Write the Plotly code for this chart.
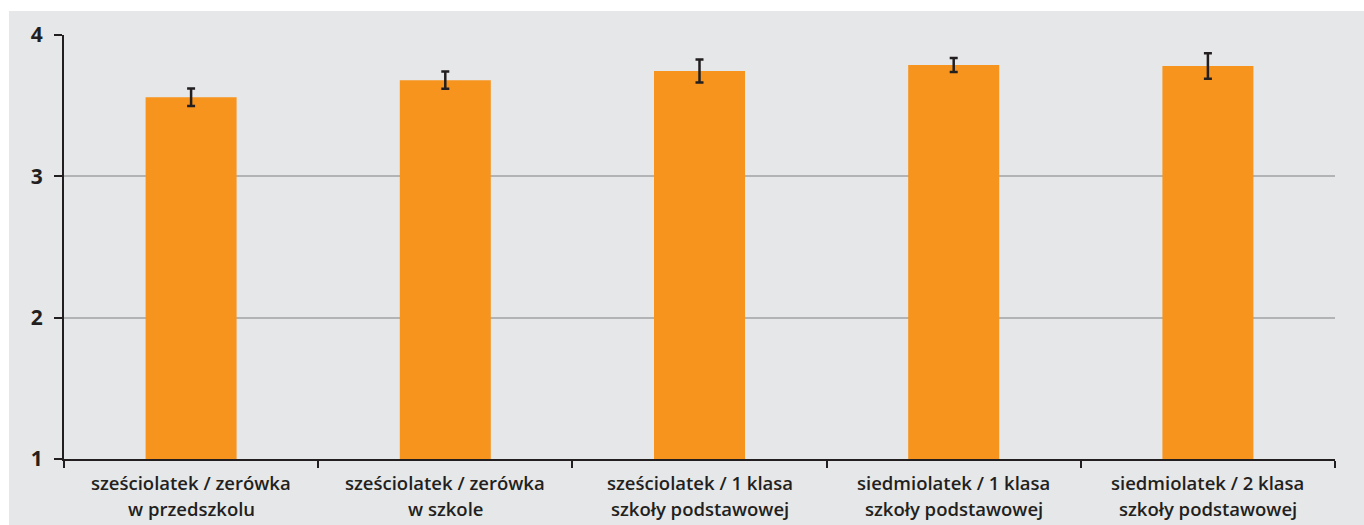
import plotly.graph_objects as go

categories = [
    "sześciolatek / zerówka w przedszkolu",
    "sześciolatek / zerówka w szkole",
    "sześciolatek / 1 klasa szkoły podstawowej",
    "siedmiolatek / 1 klasa szkoły podstawowej",
    "siedmiolatek / 2 klasa szkoły podstawowej",
]
label_line1 = [
    "sześciolatek / zerówka",
    "sześciolatek / zerówka",
    "sześciolatek / 1 klasa",
    "siedmiolatek / 1 klasa",
    "siedmiolatek / 2 klasa",
]
label_line2 = [
    "w przedszkolu",
    "w szkole",
    "szkoły podstawowej",
    "szkoły podstawowej",
    "szkoły podstawowej",
]
values = [3.56, 3.68, 3.745, 3.788, 3.781]
errors = [0.062, 0.061, 0.081, 0.05, 0.09]
y_ticks = [1, 2, 3, 4]

BG = "#e6e7e8"
DARK = "#231f20"
ORANGE = "#f7941d"
FONT = "Open Sans"

fig = go.Figure()
fig.add_trace(go.Bar(
    x=categories,
    y=values,
    marker=dict(color=ORANGE, line=dict(width=0)),
    error_y=dict(type="data", array=errors, visible=True,
                 color=DARK, thickness=2.5, width=4),
    hoverinfo="skip",
))

L, R, T, B = 64, 29, 35, 66
W, H = 1364, 525
pw = W - L - R
ph = H - T - B

fig.add_shape(
    type="rect", xref="paper", yref="paper", layer="below",
    x0=(9 - L) / pw, x1=(W - L) / pw,
    y0=(H - B - H) / ph, y1=(H - B - 11) / ph,
    fillcolor=BG, line=dict(width=0),
)

for i, cat in enumerate(categories):
    for line, shift in ((label_line1[i], -23), (label_line2[i], -49)):
        fig.add_annotation(
            x=cat, xref="x", y=0, yref="paper", yanchor="middle",
            yshift=shift, text=line, showarrow=False,
            font=dict(family=FONT, size=18.5, color=DARK, weight=600),
        )

fig.update_layout(
    width=W, height=H,
    margin=dict(l=L, r=R, t=T, b=B, pad=0),
    paper_bgcolor="white",
    plot_bgcolor="rgba(0,0,0,0)",
    bargap=0.642,
    showlegend=False,
    font=dict(family=FONT, color=DARK),
    xaxis=dict(
        type="category",
        showticklabels=False,
        ticks="outside", tickson="boundaries", ticklen=7,
        tickwidth=2, tickcolor=DARK,
        showline=True, linewidth=2, linecolor=DARK,
        showgrid=False, zeroline=False,
        range=[-0.5, 4.5],
    ),
    yaxis=dict(
        range=[1, 4],
        tickvals=y_ticks,
        ticktext=[str(v) for v in y_ticks],
        ticks="outside", ticklen=8, tickwidth=2, tickcolor=DARK,
        ticklabelstandoff=7,
        showline=True, linewidth=2, linecolor=DARK,
        showgrid=True, gridcolor="#b1b3b5", gridwidth=1.5,
        zeroline=False,
        tickfont=dict(family=FONT, size=21, color=DARK, weight=700),
    ),
)

fig.write_html("out.html")
